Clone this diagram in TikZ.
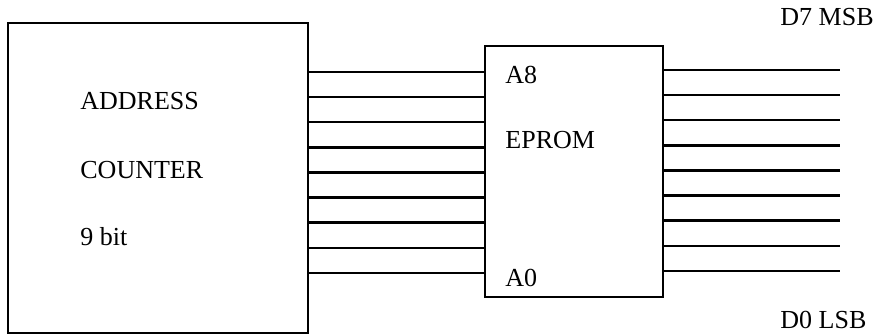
\documentclass[tikz,border=0pt]{standalone}
\usepackage{fontspec}
\setmainfont{Liberation Serif}
\tikzset{
  block/.style={draw, line width=1.2pt, inner sep=0pt, outer sep=0pt},
  label/.style={inner sep=0pt, anchor=west, font=\fontsize{13}{15}\selectfont},
  wire/.style={line width=1.2pt}
}
\begin{document}
\begin{tikzpicture}[x=0.5pt,y=-0.5pt]
            \useasboundingbox (0,0) rectangle (877,334);
            \node[block, minimum width=150pt, minimum height=155pt] (counter) at (158,178) {};
            \node[block, minimum width=89pt, minimum height=125.5pt] (eprom) at (574,171.5) {};
            \node[label] (addr) at (80,101) {ADDRESS};
            \node[label] (cnt) at (80,170) {COUNTER};
            \node[label] (bits) at (80,237) {9 bit};
            \node[label] (a8) at (505,75) {A8};
            \node[label] (name) at (505,140) {EPROM};
            \node[label] (a0) at (505,278) {A0};
            \node[label] (msb) at (780,17) {D7 MSB};
            \node[label] (lsb) at (780,320) {D0 LSB};
            \coordinate (dend) at (840,0);
            \foreach \i in {0,...,8} {
                \draw[wire] (counter.east |- 0,{72+25.1*\i}) -- (eprom.west |- 0,{72+25.1*\i});
                \draw[wire] (eprom.east |- 0,{70+25.1*\i}) -- (dend |- 0,{70+25.1*\i});
            }
        \end{tikzpicture}
\end{document}
